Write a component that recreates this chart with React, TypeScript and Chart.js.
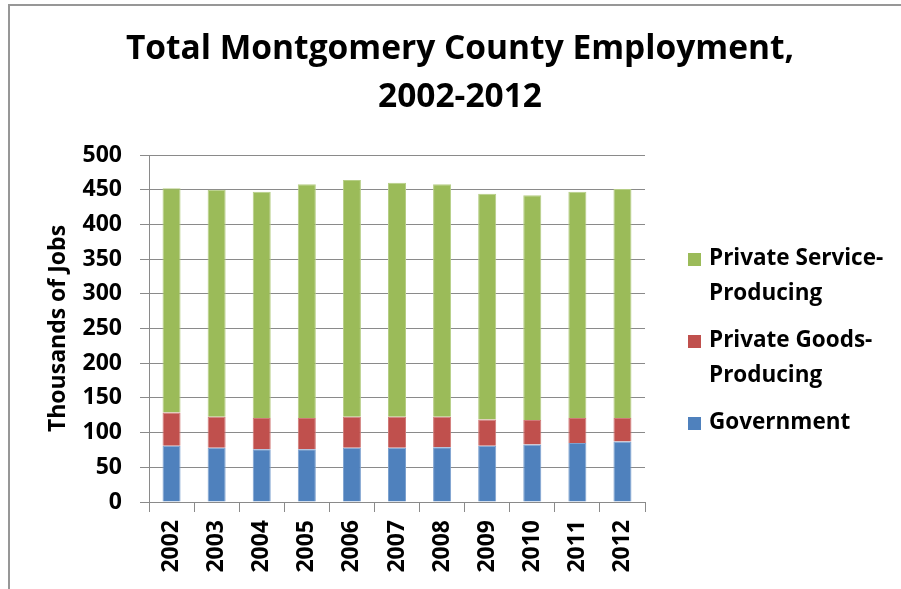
import React, { useEffect, useRef } from "react";
import { Chart, registerables } from "chart.js";

Chart.register(...registerables);

const categories = ["2002", "2003", "2004", "2005", "2006", "2007", "2008", "2009", "2010", "2011", "2012"];
const government = [81, 78, 76, 76, 78, 78, 79, 81, 83, 85, 87];
const goodsProducing = [48, 45, 45, 45, 45, 45, 44, 38, 35, 36, 34];
const serviceProducing = [323, 327, 326, 337, 341, 337, 335, 325, 324, 326, 330];
const yAxisMin = 0;
const yAxisMax = 500;
const yAxisStep = 50;
const titleLines = ["Total Montgomery County Employment,", "2002-2012"];
const yAxisTitle = "Thousands of Jobs";
const seriesNames = ["Government", "Private Goods-Producing", "Private Service-Producing"];
const legendLines = [["Government"], ["Private Goods-", "Producing"], ["Private Service-", "Producing"]];
const seriesColors = ["#4F81BD", "#C0504D", "#9BBB59"];
const seriesBorders = ["#7EA2CF", "#D07A78", "#B6CE86"];

const FONT = "'Open Sans', 'Noto Sans', sans-serif";
const GRID = "#8A8A8A";
const TEXT = "#000000";
const PAD_LEFT = 41;

const overlayPlugin = {
  id: "overlay",
  afterDraw(chart: any) {
    const ctx = chart.ctx as CanvasRenderingContext2D;
    ctx.save();
    ctx.fillStyle = TEXT;
    ctx.textAlign = "center";
    ctx.textBaseline = "middle";
    ctx.font = `bold 33.5px ${FONT}`;
    ctx.fillText(titleLines[0], 460, 49);
    ctx.fillText(titleLines[1], 460, 97);

    // legend (reverse order: top item is last dataset)
    const area = chart.chartArea;
    const boxX = area.right + 43;
    const textX = boxX + 21;
    let y = 259;
    ctx.font = `bold 22.5px ${FONT}`;
    ctx.textAlign = "left";
    for (let i = chart.data.datasets.length - 1; i >= 0; i--) {
      const ds = chart.data.datasets[i];
      ctx.fillStyle = ds.backgroundColor as string;
      ctx.fillRect(boxX, y - 6, 13, 13);
      ctx.fillStyle = TEXT;
      const lines = legendLines[i];
      lines.forEach((line, j) => {
        ctx.fillText(line, textX, y + j * 35);
      });
      y += (lines.length - 1) * 35 + 47;
    }
    ctx.restore();
  },
};

export default function App() {
  const canvasRef = useRef<HTMLCanvasElement | null>(null);

  useEffect(() => {
    if (!canvasRef.current) return;
    const tickFont = { family: FONT, size: 23, weight: "bold" as const };
    const titleFont = { family: FONT, size: 23, weight: "bold" as const };
    const chart = new Chart(canvasRef.current, {
      type: "bar",
      data: {
        labels: categories,
        datasets: [government, goodsProducing, serviceProducing].map((d, i) => ({
          label: seriesNames[i],
          data: d,
          backgroundColor: seriesColors[i],
          borderColor: seriesBorders[i],
          borderWidth: 1,
          categoryPercentage: 1,
          barPercentage: 0.4,
        })),
      },
      options: {
        animation: false,
        responsive: false,
        maintainAspectRatio: false,
        layout: { padding: { left: PAD_LEFT, right: 256, top: 155, bottom: 0 } },
        plugins: {
          legend: { display: false },
          title: { display: false },
          tooltip: { enabled: false },
        },
        scales: {
          x: {
            stacked: true,
            grid: { display: true, drawOnChartArea: false, offset: true, tickLength: 10, color: GRID },
            border: { color: GRID, width: 1 },
            ticks: { minRotation: 90, maxRotation: 90, padding: 8, color: TEXT, font: tickFont },
            afterFit: (s: any) => {
              s.height = 87;
            },
          },
          y: {
            stacked: true,
            min: yAxisMin,
            max: yAxisMax,
            ticks: { stepSize: yAxisStep, padding: 18, color: TEXT, font: tickFont },
            grid: { color: GRID, tickLength: 9 },
            border: { color: GRID, width: 1 },
            title: {
              display: true,
              text: yAxisTitle,
              align: "center",
              color: TEXT,
              font: titleFont,
              padding: { top: 4, bottom: 0 },
            },
            afterFit: (s: any) => {
              s.width = 149 - PAD_LEFT;
            },
          },
        },
      },
      plugins: [overlayPlugin],
    });
    return () => chart.destroy();
  }, []);

  return (
    <div style={{ position: "fixed", left: 0, top: 0, width: 901, height: 589, background: "#fff", overflow: "hidden" }}>
      <div
        style={{
          position: "absolute",
          left: 8,
          top: 4,
          width: 1000,
          height: 1000,
          borderTop: "2px solid #979797",
          borderLeft: "2px solid #979797",
        }}
      />
      <canvas ref={canvasRef} width={901} height={589} style={{ position: "absolute", left: 0, top: 0, display: "block" }} />
    </div>
  );
}
